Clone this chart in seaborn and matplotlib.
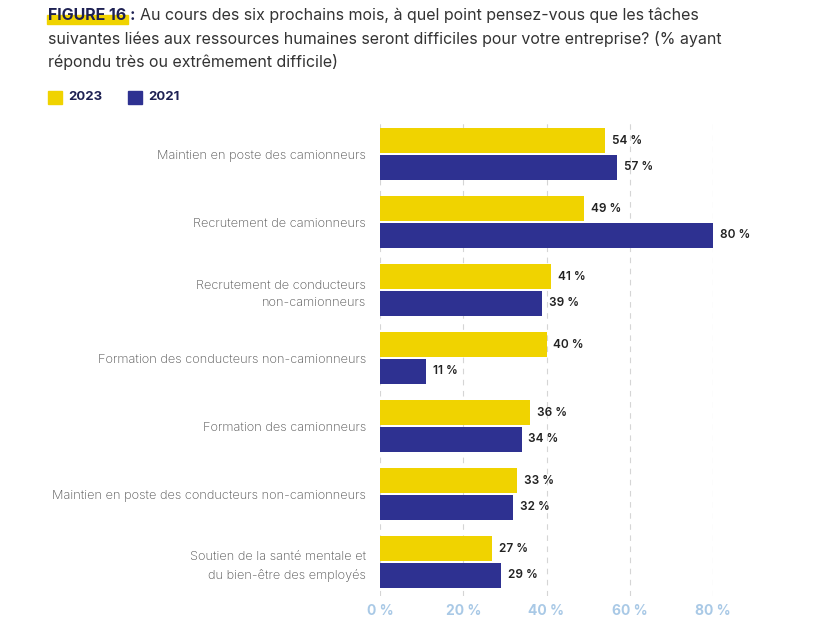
import pandas as pd
import matplotlib.pyplot as plt
import seaborn as sns

# SECTION - DATA
categories = [
    "Maintien en poste des camionneurs",
    "Recrutement de camionneurs",
    "Recrutement de conducteurs\nnon-camionneurs",
    "Formation des conducteurs non-camionneurs",
    "Formation des camionneurs",
    "Maintien en poste des conducteurs non-camionneurs",
    "Soutien de la santé mentale et\ndu bien-être des employés",
]
values_2023 = [54, 49, 41, 40, 36, 33, 27]
values_2021 = [57, 80, 39, 11, 34, 32, 29]
years = ["2023", "2021"]
x_ticks = [0, 20, 40, 60, 80]
# !SECTION

YELLOW = "#F0D300"
NAVY = "#2E3191"
W, H = 817, 623

df = pd.DataFrame({
    "categorie": categories * 2,
    "valeur": values_2023 + values_2021,
    "annee": [years[0]] * len(categories) + [years[1]] * len(categories),
})

sns.set_style("white")
plt.rcParams["font.family"] = ["Inter", "DejaVu Sans"]

fig = plt.figure(figsize=(W / 100, H / 100), dpi=100)
ax = fig.add_axes([380 / W, 1 - 596 / H, 333 / W, 476 / H])

sns.barplot(
    data=df, y="categorie", x="valeur", hue="annee",
    palette={years[0]: YELLOW, years[1]: NAVY}, saturation=1,
    orient="h", width=0.78, gap=0.06, linewidth=0, legend=False, ax=ax,
)

# value labels
for container in ax.containers:
    ax.bar_label(container, labels=[f"{v:.0f} %" for v in container.datavalues],
                 padding=5, fontsize=8.5, color="#222222", fontweight="semibold")

ax.set_xlim(0, 80)
ax.set_xticks(x_ticks)
ax.set_xticklabels([f"{t} %" for t in x_ticks], color="#A9C9E6",
                   fontsize=10, fontweight="bold")
ax.tick_params(axis="x", length=0, pad=6)
ax.tick_params(axis="y", length=0, pad=10)
for lbl in ax.get_yticklabels():
    lbl.set_fontsize(9.2)
    lbl.set_color("#505050")
    lbl.set_fontweight("light")
    lbl.set_linespacing(1.6)
ax.set_xlabel("")
ax.set_ylabel("")
ax.xaxis.grid(True, linestyle=(0, (5, 5)), color="#D5D5D5", linewidth=0.8)
ax.set_axisbelow(True)
sns.despine(ax=ax, left=True, bottom=True, top=True, right=True)

# title
x_left = 48 / W
fig.patches.append(plt.Rectangle((47 / W, 1 - 24 / H), 81 / W, 9 / H,
                                 transform=fig.transFigure, color=YELLOW, zorder=0))
head = fig.text(x_left, 1 - 15 / H, "FIGURE 16 :", fontsize=11.5, fontweight="bold",
                color="#1E2153", va="center", zorder=3)
fig.canvas.draw()
bb = head.get_window_extent().transformed(fig.transFigure.inverted())
fig.text(bb.x1 + 5 / W, 1 - 15 / H,
         "Au cours des six prochains mois, à quel point pensez-vous que les tâches",
         fontsize=11.5, color="#333333", va="center")
fig.text(x_left, 1 - 39 / H,
         "suivantes liées aux ressources humaines seront difficiles pour votre entreprise? (% ayant",
         fontsize=11.5, color="#333333", va="center")
fig.text(x_left, 1 - 62 / H, "répondu très ou extrêmement difficile)",
         fontsize=11.5, color="#333333", va="center")

# legend
for i, (yr, col) in enumerate(zip(years, [YELLOW, NAVY])):
    x0 = (48 + i * 80) / W
    fig.patches.append(plt.Rectangle((x0, 1 - 104 / H), 14 / W, 13 / H,
                                     transform=fig.transFigure, color=col))
    fig.text(x0 + 20 / W, 1 - 97 / H, yr, fontsize=9.5, fontweight="bold",
             color="#1E2153", va="center")

fig.savefig("out.png", dpi=100)
